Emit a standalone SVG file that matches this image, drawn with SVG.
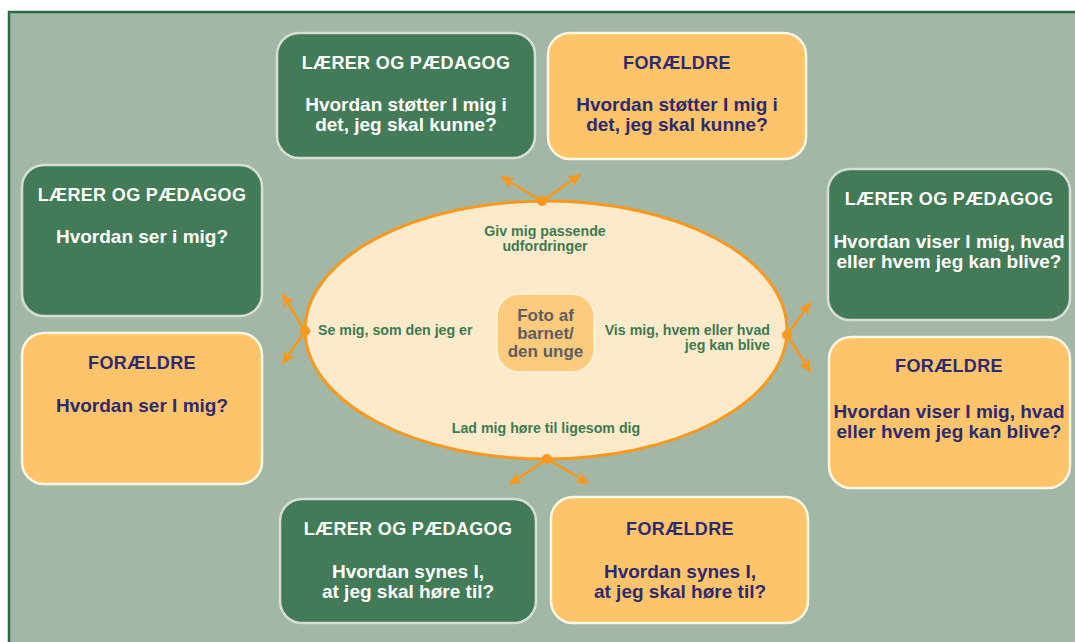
<svg xmlns="http://www.w3.org/2000/svg" width="1075" height="642" viewBox="0 0 1075 642">
<defs>
<style>
.g{fill:#437A58;stroke:#D6DED6;stroke-width:2.5}
.o{fill:#FEC46C;stroke:#FFF6E2;stroke-width:2.5}
.t{font-family:"Liberation Sans",Arial,sans-serif;font-weight:bold;font-size:19px;text-anchor:middle}
.h{font-size:18px;letter-spacing:0.35px}
.w{fill:#FFFFFF}
.n{fill:#2E2A6E}
.e{font-family:"Liberation Sans",Arial,sans-serif;font-weight:bold;font-size:14.2px;fill:#3B7A52}
.c{stroke:#F8981D;stroke-width:2.5;fill:none;marker-end:url(#ah)}
.d{fill:#F8981D}
</style>
<marker id="ah" markerUnits="userSpaceOnUse" viewBox="0 0 14 12" refX="12" refY="6" markerWidth="14" markerHeight="12" orient="auto">
<path d="M0,0 L14,6 L0,12 L4,6 z" fill="#F8981D"/>
</marker>
</defs>
<rect x="0" y="0" width="1075" height="642" fill="#FFFFFF"/>
<rect x="9" y="12" width="1080" height="640" fill="#A2B7A6" stroke="#2E6B45" stroke-width="2.5"/>

<g id="ellipse">
<ellipse cx="546" cy="330" rx="241" ry="129" fill="#FDEACB" stroke="#F8981D" stroke-width="3"/>
<text class="e" x="545" y="236" text-anchor="middle">Giv mig passende</text>
<text class="e" x="545" y="251" text-anchor="middle">udfordringer</text>
<text class="e" x="318" y="335">Se mig, som den jeg er</text>
<text class="e" x="770" y="335" text-anchor="end">Vis mig, hvem eller hvad</text>
<text class="e" x="770" y="350" text-anchor="end">jeg kan blive</text>
<text class="e" x="546" y="433" text-anchor="middle">Lad mig høre til ligesom dig</text>
</g>

<g id="photo">
<rect x="497" y="294" width="97" height="78" rx="22" fill="#FDCB7E" stroke="#FFF1D8" stroke-width="1.5"/>
<text class="t" x="545.5" y="321" style="font-size:17px;fill:#5E5E5E">Foto af</text>
<text class="t" x="545.5" y="338.5" style="font-size:17px;fill:#5E5E5E">barnet/</text>
<text class="t" x="545.5" y="356.5" style="font-size:17px;fill:#5E5E5E">den unge</text>
</g>

<g id="top-laerer">
<rect class="g" x="277" y="33" width="258" height="125" rx="22"/>
<text class="t h w" x="406" y="68.5">LÆRER OG PÆDAGOG</text>
<text class="t w" x="406" y="111">Hvordan støtter I mig i</text>
<text class="t w" x="406" y="131">det, jeg skal kunne?</text>
</g>
<g id="top-foraeldre">
<rect class="o" x="548" y="33" width="258" height="126" rx="22"/>
<text class="t h n" x="677" y="68.5">FORÆLDRE</text>
<text class="t n" x="677" y="111">Hvordan støtter I mig i</text>
<text class="t n" x="677" y="131">det, jeg skal kunne?</text>
</g>
<g id="left-laerer">
<rect class="g" x="22" y="165" width="240" height="151" rx="22"/>
<text class="t h w" x="142" y="201">LÆRER OG PÆDAGOG</text>
<text class="t w" x="142" y="243">Hvordan ser i mig?</text>
</g>
<g id="left-foraeldre">
<rect class="o" x="22" y="333" width="240" height="151" rx="22"/>
<text class="t h n" x="142" y="369">FORÆLDRE</text>
<text class="t n" x="142" y="412">Hvordan ser I mig?</text>
</g>
<g id="right-laerer">
<rect class="g" x="828" y="169" width="242" height="151" rx="22"/>
<text class="t h w" x="949" y="205">LÆRER OG PÆDAGOG</text>
<text class="t w" x="949" y="248">Hvordan viser I mig, hvad</text>
<text class="t w" x="949" y="268">eller hvem jeg kan blive?</text>
</g>
<g id="right-foraeldre">
<rect class="o" x="829" y="337" width="241" height="151" rx="22"/>
<text class="t h n" x="949" y="372">FORÆLDRE</text>
<text class="t n" x="949" y="418">Hvordan viser I mig, hvad</text>
<text class="t n" x="949" y="438">eller hvem jeg kan blive?</text>
</g>
<g id="bottom-laerer">
<rect class="g" x="280" y="499" width="256" height="124" rx="22"/>
<text class="t h w" x="408" y="535">LÆRER OG PÆDAGOG</text>
<text class="t w" x="408" y="578">Hvordan synes I,</text>
<text class="t w" x="408" y="598">at jeg skal høre til?</text>
</g>
<g id="bottom-foraeldre">
<rect class="o" x="551" y="497" width="257" height="126" rx="22"/>
<text class="t h n" x="680" y="535">FORÆLDRE</text>
<text class="t n" x="680" y="578">Hvordan synes I,</text>
<text class="t n" x="680" y="598">at jeg skal høre til?</text>
</g>

<g id="connectors">
<line class="c" x1="542" y1="201" x2="502" y2="177"/>
<line class="c" x1="542" y1="201" x2="580" y2="175"/>
<line class="c" x1="305" y1="331" x2="283" y2="295"/>
<line class="c" x1="305" y1="331" x2="283" y2="363"/>
<line class="c" x1="787" y1="335" x2="810" y2="303"/>
<line class="c" x1="787" y1="335" x2="810" y2="371"/>
<line class="c" x1="547" y1="459" x2="510" y2="484"/>
<line class="c" x1="547" y1="459" x2="588" y2="483"/>
<circle class="d" cx="542" cy="201" r="5"/>
<circle class="d" cx="305" cy="331" r="5"/>
<circle class="d" cx="787" cy="335" r="5"/>
<circle class="d" cx="547" cy="459" r="5"/>
</g>
</svg>
